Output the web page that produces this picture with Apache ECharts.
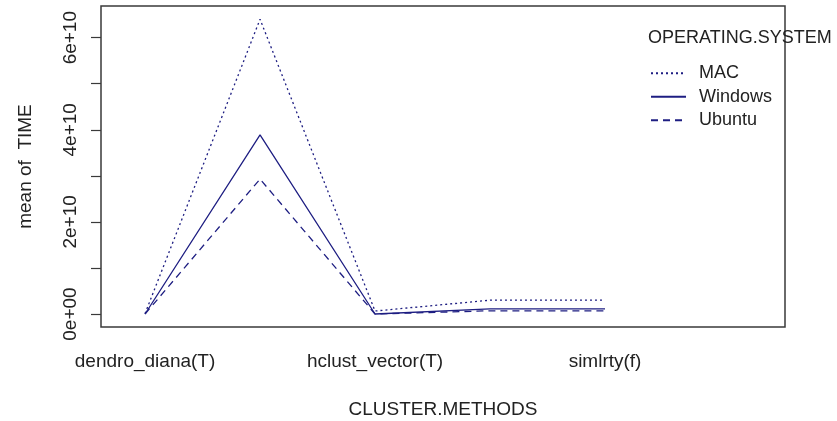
<!DOCTYPE html>
<html>
<head>
<meta charset="utf-8">
<title>mean of TIME by CLUSTER.METHODS</title>
<script src="https://cdn.jsdelivr.net/npm/echarts@6/dist/echarts.min.js"></script>
<style>
  html, body { margin: 0; padding: 0; background: #ffffff; }
  #chart { width: 837px; height: 421px; }
</style>
</head>
<body>
<div id="chart"></div>
<script>
// Cluster methods along the x axis (positions 1..5)
const methods = ['dendro_diana(T)', 'hclust_single(T)', 'hclust_vector(T)', 'simlrty(T)', 'simlrty(f)'];
// Only every other method name is printed under the axis
const labeledPositions = [1, 3, 5];

// Mean TIME per operating system
const macTimes     = [0.01e10, 6.40e10, 0.065e10, 0.30e10, 0.30e10];
const windowsTimes = [0.00e10, 3.89e10, 0.000e10, 0.11e10, 0.11e10];
const ubuntuTimes  = [0.00e10, 2.93e10, 0.000e10, 0.07e10, 0.07e10];

// Y ticks every 1e10, labels every 2e10
const yTicks  = [0, 1e10, 2e10, 3e10, 4e10, 5e10, 6e10];
const yLabels = [0, 2e10, 4e10, 6e10];

const FONT = "'Liberation Sans', Arial, sans-serif";
const INK = '#222222';
const LINE = '#1e1e82';

function toPairs(values) {
  return values.map((v, i) => [i + 1, v]);
}

function sci(v) {
  if (v === 0) return '0e+00';
  const exp = Math.floor(Math.log10(Math.abs(v)));
  const mant = Math.round(v / Math.pow(10, exp));
  return mant + 'e+' + String(exp).padStart(2, '0');
}

const chart = echarts.init(document.getElementById('chart'), null, { renderer: 'canvas' });

chart.setOption({
  backgroundColor: '#ffffff',
  animation: false,
  textStyle: { fontFamily: FONT, color: INK },
  title: {
    text: 'OPERATING.SYSTEM',
    left: 643,
    top: 24,
    textStyle: { fontFamily: FONT, fontSize: 18, fontWeight: 'normal', color: INK }
  },
  legend: {
    orient: 'vertical',
    left: 645,
    top: 58,
    itemWidth: 35,
    itemHeight: 12,
    itemGap: 3,
    itemStyle: { opacity: 0 },
    textStyle: { fontFamily: FONT, fontSize: 18, color: INK, lineHeight: 20.5, padding: [0, 0, 0, 8] },
    data: ['MAC', 'Windows', 'Ubuntu']
  },
  grid: {
    left: 101,
    right: 52,
    top: 6,
    bottom: 94,
    outerBoundsMode: 'none',
    containLabel: false,
    show: true,
    borderColor: '#3a3a3a',
    borderWidth: 1.5,
    backgroundColor: 'transparent'
  },
  xAxis: {
    type: 'value',
    min: 0.617,
    max: 6.565,
    name: 'CLUSTER.METHODS',
    nameLocation: 'middle',
    nameGap: 73,
    nameTextStyle: { fontFamily: FONT, fontSize: 19, color: INK },
    axisLine: { show: false },
    axisTick: { show: false },
    splitLine: { show: false },
    axisLabel: {
      customValues: labeledPositions,
      formatter: v => methods[Math.round(v) - 1],
      margin: 25,
      fontFamily: FONT,
      fontSize: 19,
      color: INK
    }
  },
  yAxis: {
    type: 'value',
    min: -0.282e10,
    max: 6.688e10,
    name: 'mean of  TIME',
    nameLocation: 'middle',
    nameGap: 66,
    nameTextStyle: { fontFamily: FONT, fontSize: 19, color: INK },
    axisLine: { show: false },
    splitLine: { show: false },
    axisTick: {
      show: true,
      customValues: yTicks,
      length: 10,
      lineStyle: { color: '#3a3a3a', width: 1.2 }
    },
    axisLabel: {
      customValues: yLabels,
      rotate: 90,
      margin: 21,
      formatter: v => sci(v),
      fontFamily: FONT,
      fontSize: 19,
      color: INK
    }
  },
  series: [
    {
      name: 'MAC',
      type: 'line',
      symbol: 'none',
      data: toPairs(macTimes),
      itemStyle: { color: LINE },
      lineStyle: { color: LINE, width: 1.3, type: [2, 3] }
    },
    {
      name: 'Windows',
      type: 'line',
      symbol: 'none',
      data: toPairs(windowsTimes),
      itemStyle: { color: LINE },
      lineStyle: { color: LINE, width: 1.3, type: 'solid' }
    },
    {
      name: 'Ubuntu',
      type: 'line',
      symbol: 'none',
      data: toPairs(ubuntuTimes),
      itemStyle: { color: LINE },
      lineStyle: { color: LINE, width: 1.3, type: [7, 5] }
    }
  ]
});
</script>
</body>
</html>
